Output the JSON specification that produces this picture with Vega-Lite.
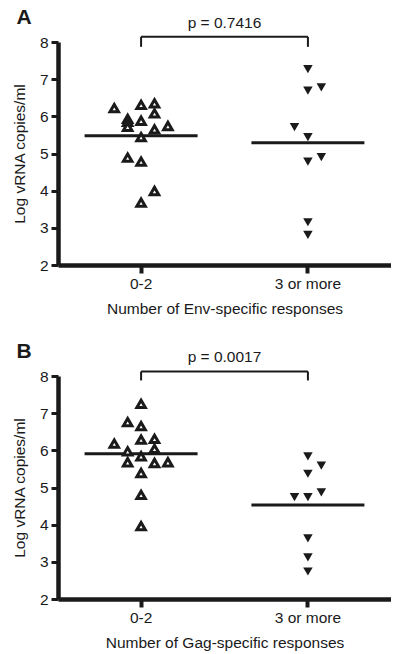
{
  "$schema": "https://vega.github.io/schema/vega-lite/v6.json",
  "background": "white",
  "padding": {"left": 12, "top": 6, "right": 0, "bottom": 0},
  "config": {
    "font": "Liberation Sans",
    "view": {"stroke": null},
    "concat": {"spacing": 23},
    "title": {"font": "Liberation Sans", "color": "#1a1a1a"},
    "axis": {
      "grid": false,
      "domainColor": "#1a1a1a",
      "domainWidth": 4.5,
      "tickColor": "#1a1a1a",
      "tickWidth": 3,
      "tickSize": 7,
      "labelFont": "Liberation Sans",
      "labelFontSize": 15.5,
      "labelColor": "#1a1a1a",
      "labelOverlap": false,
      "titleFont": "Liberation Sans",
      "titleFontSize": 15.5,
      "titleFontWeight": "normal",
      "titleColor": "#1a1a1a"
    },
    "axisX": {"labelAngle": 0, "tickWidth": 4, "tickSize": 8, "labelPadding": 3, "titlePadding": 10},
    "axisY": {"labelPadding": 3, "titlePadding": 12, "tickCount": 8}
  },
  "datasets": {
    "points": [
      {"panel": "A", "group": "0-2", "lane": -2, "vrna": 6.22},
      {"panel": "A", "group": "0-2", "lane": 0, "vrna": 6.31},
      {"panel": "A", "group": "0-2", "lane": 1, "vrna": 6.35},
      {"panel": "A", "group": "0-2", "lane": 1, "vrna": 6.08},
      {"panel": "A", "group": "0-2", "lane": -1, "vrna": 5.93},
      {"panel": "A", "group": "0-2", "lane": -1, "vrna": 5.85},
      {"panel": "A", "group": "0-2", "lane": -1, "vrna": 5.72},
      {"panel": "A", "group": "0-2", "lane": 0, "vrna": 5.88},
      {"panel": "A", "group": "0-2", "lane": 2, "vrna": 5.74},
      {"panel": "A", "group": "0-2", "lane": 1, "vrna": 5.65},
      {"panel": "A", "group": "0-2", "lane": 0, "vrna": 5.44},
      {"panel": "A", "group": "0-2", "lane": -1, "vrna": 4.89},
      {"panel": "A", "group": "0-2", "lane": 0, "vrna": 4.78},
      {"panel": "A", "group": "0-2", "lane": 1, "vrna": 3.99},
      {"panel": "A", "group": "0-2", "lane": 0, "vrna": 3.68},
      {"panel": "A", "group": "3 or more", "lane": 0, "vrna": 7.27},
      {"panel": "A", "group": "3 or more", "lane": 0, "vrna": 6.69},
      {"panel": "A", "group": "3 or more", "lane": 1, "vrna": 6.78},
      {"panel": "A", "group": "3 or more", "lane": -1, "vrna": 5.71},
      {"panel": "A", "group": "3 or more", "lane": 0, "vrna": 5.44},
      {"panel": "A", "group": "3 or more", "lane": 0, "vrna": 4.78},
      {"panel": "A", "group": "3 or more", "lane": 1, "vrna": 4.9},
      {"panel": "A", "group": "3 or more", "lane": 0, "vrna": 3.15},
      {"panel": "A", "group": "3 or more", "lane": 0, "vrna": 2.81},
      {"panel": "B", "group": "0-2", "lane": 0, "vrna": 7.25},
      {"panel": "B", "group": "0-2", "lane": -1, "vrna": 6.76},
      {"panel": "B", "group": "0-2", "lane": 0, "vrna": 6.65},
      {"panel": "B", "group": "0-2", "lane": 0, "vrna": 6.29},
      {"panel": "B", "group": "0-2", "lane": 1, "vrna": 6.31},
      {"panel": "B", "group": "0-2", "lane": -2, "vrna": 6.18},
      {"panel": "B", "group": "0-2", "lane": 1, "vrna": 6.04},
      {"panel": "B", "group": "0-2", "lane": -1, "vrna": 5.97},
      {"panel": "B", "group": "0-2", "lane": -1, "vrna": 5.68},
      {"panel": "B", "group": "0-2", "lane": 0, "vrna": 5.84},
      {"panel": "B", "group": "0-2", "lane": 1, "vrna": 5.66},
      {"panel": "B", "group": "0-2", "lane": 2, "vrna": 5.68},
      {"panel": "B", "group": "0-2", "lane": 0, "vrna": 5.39},
      {"panel": "B", "group": "0-2", "lane": 0, "vrna": 4.8},
      {"panel": "B", "group": "0-2", "lane": 0, "vrna": 3.96},
      {"panel": "B", "group": "3 or more", "lane": 0, "vrna": 5.84},
      {"panel": "B", "group": "3 or more", "lane": 1, "vrna": 5.59},
      {"panel": "B", "group": "3 or more", "lane": 0, "vrna": 5.37},
      {"panel": "B", "group": "3 or more", "lane": -1, "vrna": 4.74},
      {"panel": "B", "group": "3 or more", "lane": 0, "vrna": 4.74},
      {"panel": "B", "group": "3 or more", "lane": 1, "vrna": 4.87},
      {"panel": "B", "group": "3 or more", "lane": 0, "vrna": 3.63},
      {"panel": "B", "group": "3 or more", "lane": 0, "vrna": 3.12},
      {"panel": "B", "group": "3 or more", "lane": 0, "vrna": 2.74}
    ],
    "means": [
      {"panel": "A", "group": "0-2", "mean": 5.48},
      {"panel": "A", "group": "3 or more", "mean": 5.29},
      {"panel": "B", "group": "0-2", "mean": 5.91},
      {"panel": "B", "group": "3 or more", "mean": 4.53}
    ],
    "bracket": [
      {"panel": "A", "from": "0-2", "to": "3 or more", "top": 8.14, "foot": 7.87},
      {"panel": "B", "from": "0-2", "to": "3 or more", "top": 8.12, "foot": 7.88}
    ]
  },
  "vconcat": [
    {
      "title": {"text": "A", "anchor": "start", "fontSize": 21, "fontWeight": "bold", "offset": -12, "dx": 4},
      "vconcat": [
        {
          "title": {"text": "p = 0.7416", "anchor": "middle", "frame": "group", "fontSize": 15.5, "fontWeight": "normal", "offset": 4},
          "width": 333,
          "height": 223,
          "layer": [
            {
              "data": {"name": "bracket"},
              "transform": [{"filter": "datum.panel === 'A'"}],
              "mark": {"type": "rule", "color": "#1a1a1a", "strokeWidth": 2},
              "encoding": {
                "x": {"field": "from", "type": "nominal", "scale": {"domain": ["0-2", "3 or more"], "type": "band", "paddingInner": 0.598, "paddingOuter": 0.297}, "axis": {"title": "Number of Env-specific responses"}},
                "x2": {"field": "to"},
                "y": {"field": "top", "type": "quantitative", "scale": {"domain": [2, 8], "nice": false, "zero": false}, "axis": {"title": "Log vRNA copies/ml", "values": [2, 3, 4, 5, 6, 7, 8], "tickCount": 8, "labelOverlap": false}}
              }
            },
            {
              "data": {"name": "bracket"},
              "transform": [{"filter": "datum.panel === 'A'"}],
              "mark": {"type": "rule", "color": "#1a1a1a", "strokeWidth": 2},
              "encoding": {"x": {"field": "from", "type": "nominal"}, "y": {"field": "top", "type": "quantitative"}, "y2": {"field": "foot"}}
            },
            {
              "data": {"name": "bracket"},
              "transform": [{"filter": "datum.panel === 'A'"}],
              "mark": {"type": "rule", "color": "#1a1a1a", "strokeWidth": 2},
              "encoding": {"x": {"field": "to", "type": "nominal"}, "y": {"field": "top", "type": "quantitative"}, "y2": {"field": "foot"}}
            },
            {
              "data": {"name": "means"},
              "transform": [{"filter": "datum.panel === 'A'"}],
              "mark": {"type": "tick", "orient": "horizontal", "color": "#1a1a1a", "thickness": 3, "size": 113, "opacity": 1},
              "encoding": {"x": {"field": "group", "type": "nominal"}, "y": {"field": "mean", "type": "quantitative"}}
            },
            {
              "data": {"name": "points"},
              "transform": [{"filter": "datum.panel === 'A' && datum.group === '0-2'"}],
              "mark": {"type": "point", "shape": "triangle-up", "filled": false, "fill": "white", "stroke": "#1a1a1a", "strokeWidth": 3, "size": 72, "opacity": 1},
              "encoding": {
                "x": {"field": "group", "type": "nominal"},
                "xOffset": {"field": "lane", "type": "ordinal", "scale": {"type": "band", "domain": [-2, -1, 0, 1, 2], "paddingInner": 0, "paddingOuter": 0}},
                "y": {"field": "vrna", "type": "quantitative"}
              }
            },
            {
              "data": {"name": "points"},
              "transform": [{"filter": "datum.panel === 'A' && datum.group === '3 or more'"}],
              "mark": {"type": "point", "shape": "triangle-down", "filled": true, "color": "#1a1a1a", "size": 90, "opacity": 1},
              "encoding": {
                "x": {"field": "group", "type": "nominal"},
                "xOffset": {"field": "lane", "type": "ordinal"},
                "y": {"field": "vrna", "type": "quantitative"}
              }
            }
          ]
        }
      ]
    },
    {
      "title": {"text": "B", "anchor": "start", "fontSize": 21, "fontWeight": "bold", "offset": -12, "dx": 4},
      "vconcat": [
        {
          "title": {"text": "p = 0.0017", "anchor": "middle", "frame": "group", "fontSize": 15.5, "fontWeight": "normal", "offset": 4},
          "width": 333,
          "height": 223,
          "layer": [
            {
              "data": {"name": "bracket"},
              "transform": [{"filter": "datum.panel === 'B'"}],
              "mark": {"type": "rule", "color": "#1a1a1a", "strokeWidth": 2},
              "encoding": {
                "x": {"field": "from", "type": "nominal", "scale": {"domain": ["0-2", "3 or more"], "type": "band", "paddingInner": 0.598, "paddingOuter": 0.297}, "axis": {"title": "Number of Gag-specific responses"}},
                "x2": {"field": "to"},
                "y": {"field": "top", "type": "quantitative", "scale": {"domain": [2, 8], "nice": false, "zero": false}, "axis": {"title": "Log vRNA copies/ml", "values": [2, 3, 4, 5, 6, 7, 8], "tickCount": 8, "labelOverlap": false}}
              }
            },
            {
              "data": {"name": "bracket"},
              "transform": [{"filter": "datum.panel === 'B'"}],
              "mark": {"type": "rule", "color": "#1a1a1a", "strokeWidth": 2},
              "encoding": {"x": {"field": "from", "type": "nominal"}, "y": {"field": "top", "type": "quantitative"}, "y2": {"field": "foot"}}
            },
            {
              "data": {"name": "bracket"},
              "transform": [{"filter": "datum.panel === 'B'"}],
              "mark": {"type": "rule", "color": "#1a1a1a", "strokeWidth": 2},
              "encoding": {"x": {"field": "to", "type": "nominal"}, "y": {"field": "top", "type": "quantitative"}, "y2": {"field": "foot"}}
            },
            {
              "data": {"name": "means"},
              "transform": [{"filter": "datum.panel === 'B'"}],
              "mark": {"type": "tick", "orient": "horizontal", "color": "#1a1a1a", "thickness": 3, "size": 113, "opacity": 1},
              "encoding": {"x": {"field": "group", "type": "nominal"}, "y": {"field": "mean", "type": "quantitative"}}
            },
            {
              "data": {"name": "points"},
              "transform": [{"filter": "datum.panel === 'B' && datum.group === '0-2'"}],
              "mark": {"type": "point", "shape": "triangle-up", "filled": false, "fill": "white", "stroke": "#1a1a1a", "strokeWidth": 3, "size": 72, "opacity": 1},
              "encoding": {
                "x": {"field": "group", "type": "nominal"},
                "xOffset": {"field": "lane", "type": "ordinal", "scale": {"type": "band", "domain": [-2, -1, 0, 1, 2], "paddingInner": 0, "paddingOuter": 0}},
                "y": {"field": "vrna", "type": "quantitative"}
              }
            },
            {
              "data": {"name": "points"},
              "transform": [{"filter": "datum.panel === 'B' && datum.group === '3 or more'"}],
              "mark": {"type": "point", "shape": "triangle-down", "filled": true, "color": "#1a1a1a", "size": 90, "opacity": 1},
              "encoding": {
                "x": {"field": "group", "type": "nominal"},
                "xOffset": {"field": "lane", "type": "ordinal"},
                "y": {"field": "vrna", "type": "quantitative"}
              }
            }
          ]
        }
      ]
    }
  ]
}
